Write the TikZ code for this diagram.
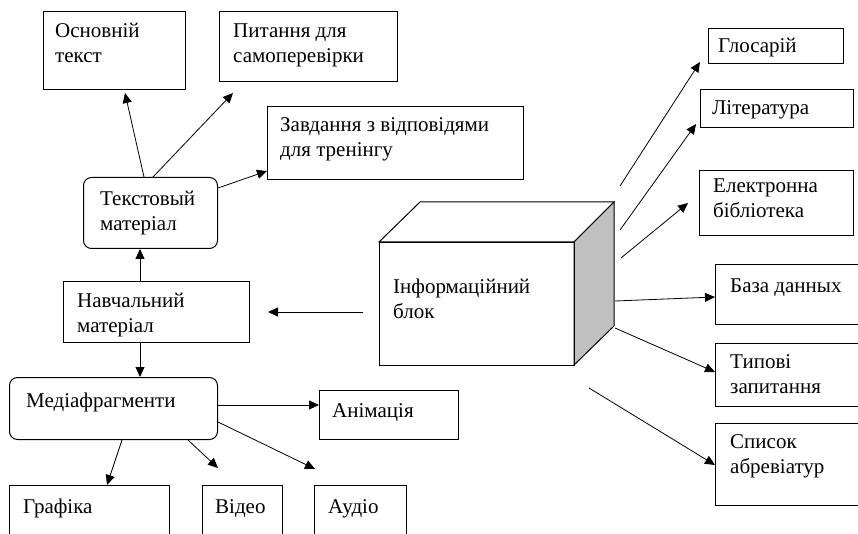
\documentclass[tikz,border=0pt]{standalone}
\usepackage{fontspec}
\setmainfont{Liberation Serif}
\newfontfamily\lserif{Liberation Serif}
\usetikzlibrary{arrows.meta}
\begin{document}
\begin{tikzpicture}[x=1pt,y=-1pt,
  box/.style={draw, line width=1pt, anchor=north west, inner sep=0pt},
  rbox/.style={box, rounded corners=8pt},
  txt/.style={font=\lserif\fontsize{21}{25}\selectfont, align=left, inner sep=0pt, anchor=base west},
  arr/.style={line width=0.8pt, -{Triangle[length=10pt,width=9pt]}}]
\useasboundingbox (0,0) rectangle (858,534);
\clip (0,0) rectangle (858,534);
% boxes
\node[box, minimum width=142pt, minimum height=78pt] (ot) at (43,11) {};
\node[box, minimum width=178pt, minimum height=70pt] (pt) at (219,11) {};
\node[box, minimum width=256pt, minimum height=73pt] (zd) at (267,106) {};
\node[rbox, minimum width=134pt, minimum height=71pt] (tm) at (83,177) {};
\node[box, minimum width=186pt, minimum height=61pt] (nm) at (63,281) {};
\node[rbox, minimum width=208pt, minimum height=62pt] (md) at (9,377) {};
\node[box, minimum width=139pt, minimum height=49pt] (an) at (319,390) {};
\node[box, minimum width=160pt, minimum height=70pt] (gr) at (9,485) {};
\node[box, minimum width=80pt, minimum height=70pt] (vd) at (202,485) {};
\node[box, minimum width=92pt, minimum height=70pt] (au) at (314,485) {};
\node[box, minimum width=135pt, minimum height=35pt] (gl) at (708,28) {};
\node[box, minimum width=153pt, minimum height=38pt] (li) at (700,89) {};
\node[box, minimum width=154pt, minimum height=65pt] (el) at (699,170) {};
\node[box, minimum width=165pt, minimum height=60pt] (bd) at (715,264) {};
\node[box, minimum width=165pt, minimum height=63pt] (tz) at (715,343) {};
\node[box, minimum width=165pt, minimum height=82pt] (sa) at (715,423) {};
% 3D block
\draw[line width=1pt, fill=white] (379,242) -- (420,202) -- (614,202) -- (574,242) -- cycle;
\draw[line width=1pt, fill={rgb,255:red,192;green,192;blue,192}] (574,242) -- (614,202) -- (614,326) -- (574,365) -- cycle;
\node[box, minimum width=195pt, minimum height=123pt] (ib) at (379,242) {};
% texts (anchor = baseline of last line)
\node[txt] (otT) at (55,63) {Основній\\текст};
\node[txt] (ptT) at (233,63) {Питання для\\самоперевірки};
\node[txt] (zdT) at (280,157) {Завдання з відповідями\\для тренінгу};
\node[txt] (tmT) at (100,231) {Текстовый\\матеріал};
\node[txt] (nmT) at (77,332) {Навчальний\\матеріал};
\node[txt] (mdT) at (26,407) {Медіафрагменти};
\node[txt] (anT) at (332,417) {Анімація};
\node[txt] (grT) at (23,513) {Графіка};
\node[txt] (vdT) at (215,513) {Відео};
\node[txt] (auT) at (328,513) {Аудіо};
\node[txt] (glT) at (718,53) {Глосарій};
\node[txt] (liT) at (712,115) {Література};
\node[txt] (elT) at (713,218) {Електронна\\бібліотека};
\node[txt] (ibT) at (393,318) {Інформаційний\\блок};
\node[txt] (bdT) at (730,292) {База данных};
\node[txt] (tzT) at (730,393) {Типові\\запитання};
\node[txt] (saT) at (730,473) {Список\\абревіатур};
% connectors
\draw[arr] ([xshift=61pt]tm.north west) -- ([xshift=82pt,yshift=-3pt]ot.south west);
\draw[arr] ([xshift=70pt]tm.north west) -- ([xshift=14pt,yshift=-11pt]pt.south west);
\draw[arr] ([yshift=-11pt]tm.north east) -- ([yshift=-65pt]zd.north west);
\draw[arr] ([xshift=77pt]nm.north west) -- ([xshift=57pt]tm.south west);
\draw[arr] ([xshift=77pt]nm.south west) -- ([xshift=131pt]md.north west);
\draw[arr] ([yshift=-28pt]md.north east) -- ([yshift=-15pt]an.north west);
\draw[arr] ([xshift=113pt]md.south west) -- ([xshift=98pt]gr.north west);
\draw[arr] ([xshift=179pt]md.south west) -- ([xshift=16pt,yshift=17pt]vd.north west);
\draw[arr] ([yshift=-45pt]md.north east) -- ([xshift=1pt,yshift=16pt]au.north west);
\draw[arr] ([xshift=-16pt,yshift=-70pt]ib.north west) -- ([xshift=18pt]nm.east);
\draw[arr] ([xshift=45pt,yshift=56pt]ib.north east) -- ([xshift=-8pt,yshift=2pt]gl.south west);
\draw[arr] ([xshift=45pt,yshift=12pt]ib.north east) -- ([xshift=-4pt,yshift=4pt]li.south west);
\draw[arr] ([xshift=46pt,yshift=-16pt]ib.north east) -- ([xshift=-11pt]el.west);
\draw[arr] ([xshift=40pt,yshift=-59pt]ib.north east) -- ([yshift=-33pt]bd.north west);
\draw[arr] ([xshift=40pt,yshift=38pt]ib.south east) -- ([yshift=-29pt]tz.north west);
\draw[arr] ([xshift=14pt,yshift=-22pt]ib.south east) -- ([yshift=-42pt]sa.north west);
\end{tikzpicture}
\end{document}
